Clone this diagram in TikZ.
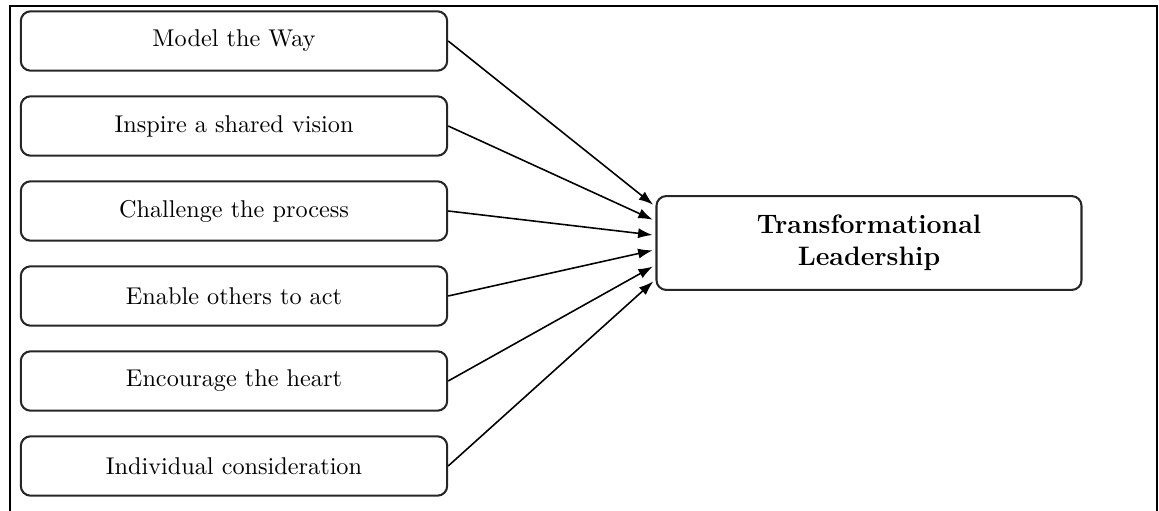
\documentclass[tikz,border=0pt]{standalone}
\usepackage{tikz}
\usetikzlibrary{arrows.meta,calc}
\begin{document}
\begin{tikzpicture}
    [x=0.0145cm,y=-0.0145cm,
    factor/.style = {draw=black!85,
                rounded corners=4pt,
                line width=0.85pt,
                minimum width=6.18cm,
                minimum height=0.86cm},
    outcome/.style = {factor,
                minimum width=6.16cm,
                minimum height=1.36cm,
                align=center,
                font=\fontsize{11}{13}\selectfont\bfseries},
    link/.style = {line width=0.65pt,
                -{Latex[length=6pt,width=4.2pt]},
                shorten >=1.2pt}]
    \useasboundingbox (0,0) rectangle (1159,511);
    % Marco exterior (abierto por abajo)
    \draw[line width=0.9pt] (10,511) -- (10,6) -- (1157,6) -- (1157,511);
    % Factores
    \foreach \lbl [count=\i] in {Model the Way,
                                 Inspire a shared vision,
                                 Challenge the process,
                                 Enable others to act,
                                 Encourage the heart,
                                 Individual consideration}
        \node[factor] (f\i) at (234,{41+85*(\i-1)}) {\lbl};
    % Liderazgo transformacional
    \node[outcome] (TL) at (869,243) {Transformational\\Leadership};
    % Flechas
    \foreach \i/\f in {1/0.12,2/0.27,3/0.42,4/0.57,5/0.73,6/0.88}
        \draw[link] (f\i.east) -- ($(TL.north west)!\f!(TL.south west)$);
\end{tikzpicture}
\end{document}
